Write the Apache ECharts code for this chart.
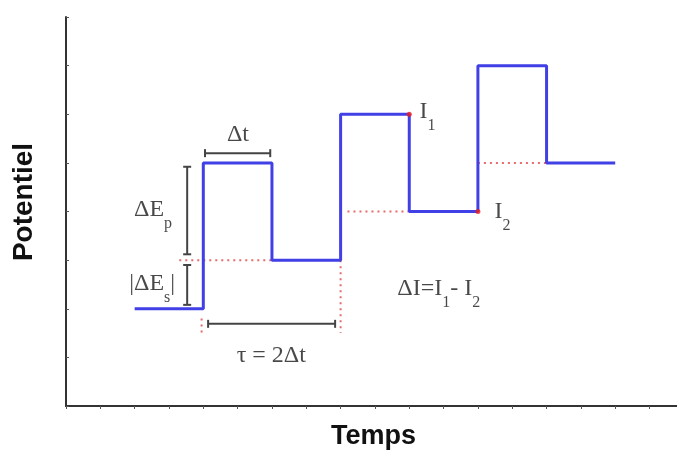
<!DOCTYPE html>
<html>
<head>
<meta charset="utf-8" />
<title>Potentiel - Temps</title>
<style>
  html, body { margin: 0; padding: 0; background: #fff; }
  #chart { width: 677px; height: 454px; }
</style>
</head>
<body>
<div id="chart"></div>
<script src="https://cdn.jsdelivr.net/npm/echarts@6/dist/echarts.min.js"></script>
<script>
// waveform (time in half-steps, potential in steps)
var times = [2, 4, 6, 8, 10, 12, 14, 16];
var potentials = [2, 5, 3, 6, 4, 7, 5, 5];

// red dotted guides
var guides = [
  [[3.3, 3], [6, 3]],
  [[8, 3], [8, 1.5]],
  [[3.95, 1.8], [3.95, 1.5]],
  [[8.2, 4], [10, 4]],
  [[12, 5], [14, 5]]
];
// sampled currents I1 / I2
var samplePoints = [[10, 6], [12, 4]];

// dimension brackets: [points, horizontal?]
var brackets = [
  [[[4.05, 5.2], [5.95, 5.2]], true],
  [[[3.53, 4.92], [3.53, 3.12]], false],
  [[[3.53, 2.9], [3.53, 2.08]], false],
  [[[4.14, 1.69], [7.84, 1.69]], true]
];

// annotations
var annoText = ['{m|Δt}', '{m|ΔE}{p|p}', '{m||ΔE}{s|s}{m||}', '{m|τ = 2Δt}', '{m|I}{s|1}', '{m|I}{s|2}', '{m|ΔI=I}{s|1}{m|- I}{s|2}'];
var annoPos = [[5.01, 5.58], [3.09, 4.03], [3.18, 2.51], [5.98, 1.03], [10.3, 6.05], [12.48, 3.99], [9.65, 2.41]];
var annoAlign = ['center', 'right', 'right', 'center', 'left', 'left', 'left'];

var serif = '"Liberation Serif", "Times New Roman", serif';

var chart = echarts.init(document.getElementById('chart'));

var series = [];

guides.forEach(function (g) {
  series.push({
    type: 'line', data: g, symbol: 'none', silent: true, z: 2,
    lineStyle: { color: '#e86a6a', width: 2, type: [2, 4] }
  });
});

series.push({
  type: 'line',
  data: times.map(function (t, i) { return [t, potentials[i]]; }),
  step: 'end',
  symbol: 'none',
  z: 3,
  lineStyle: { color: '#4040e6', width: 3 }
});

series.push({
  type: 'scatter', data: samplePoints, symbolSize: 5, z: 4,
  itemStyle: { color: '#ee1c1c' }
});

brackets.forEach(function (b) {
  series.push({
    type: 'line', data: b[0], z: 3,
    symbol: 'rect', symbolSize: b[1] ? [2, 8] : [8, 2], showAllSymbol: true,
    lineStyle: { color: '#444', width: 2 },
    itemStyle: { color: '#444' }
  });
});

series.push({
  type: 'scatter',
  symbolSize: 0,
  z: 5,
  data: annoPos.map(function (p, i) {
    return {
      value: p,
      label: { formatter: annoText[i], align: annoAlign[i] }
    };
  }),
  label: {
    show: true,
    position: 'inside',
    verticalAlign: 'middle',
    rich: {
      m: { fontFamily: serif, fontSize: 24, color: '#1a1a1a', lineHeight: 44 },
      s: { fontFamily: serif, fontSize: 16, color: '#1a1a1a', lineHeight: 18, verticalAlign: 'bottom' },
      p: { fontFamily: serif, fontSize: 16, color: '#1a1a1a', lineHeight: 8, verticalAlign: 'bottom' }
    }
  }
});

var option = {
  animation: false,
  grid: { left: 66, right: 0, top: 17, bottom: 48 },
  xAxis: {
    type: 'value', min: 0, max: 17.8, interval: 1,
    axisLine: { lineStyle: { color: '#333', width: 2 } },
    axisTick: { show: true, length: 3, lineStyle: { color: '#555' } },
    axisLabel: { show: false },
    splitLine: { show: false }
  },
  yAxis: {
    type: 'value', min: 0, max: 8, interval: 1,
    axisLine: { show: true, lineStyle: { color: '#333', width: 2 } },
    axisTick: { show: true, inside: true, length: 3, lineStyle: { color: '#555' } },
    axisLabel: { show: false },
    splitLine: { show: false }
  },
  graphic: [
    {
      type: 'text', left: 331, top: 423,
      style: { text: 'Temps', font: 'bold 27px "Liberation Sans", Arial, sans-serif', fill: '#111' }
    },
    {
      type: 'text', x: 10, y: 202, rotation: Math.PI / 2,
      style: {
        text: 'Potentiel', font: 'bold 28px "Liberation Sans", Arial, sans-serif', fill: '#111',
        align: 'center', verticalAlign: 'top'
      }
    }
  ],
  series: series
};

chart.setOption(option);
</script>
</body>
</html>
